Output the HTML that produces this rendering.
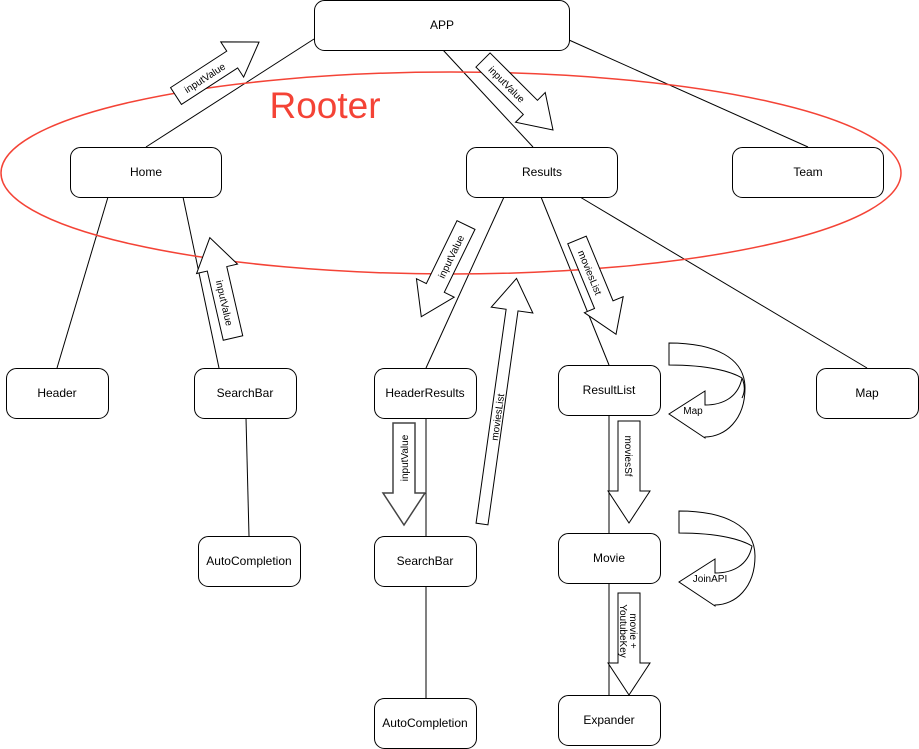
<!DOCTYPE html>
<html><head><meta charset="utf-8"><style>
html,body{margin:0;padding:0;background:#fff;}
svg{display:block;font-family:"Liberation Sans",sans-serif;}
</style></head><body>
<svg width="919" height="749" viewBox="0 0 919 749" xmlns="http://www.w3.org/2000/svg">
<g stroke="#000" stroke-width="1" fill="none">
<line x1="314" y1="39" x2="146" y2="147"/>
<line x1="443" y1="50" x2="533" y2="147"/>
<line x1="569" y1="40" x2="808" y2="147"/>
<line x1="108" y1="197" x2="57" y2="368"/>
<line x1="183" y1="197" x2="219" y2="368"/>
<line x1="246" y1="418" x2="249" y2="536"/>
<line x1="504" y1="197" x2="426" y2="368"/>
<line x1="541" y1="197" x2="609" y2="365"/>
<line x1="580" y1="197" x2="867" y2="368"/>
<line x1="426" y1="418" x2="426" y2="536"/>
<line x1="426" y1="586" x2="426" y2="698"/>
<line x1="609" y1="415" x2="609" y2="533"/>
<line x1="609" y1="583" x2="609" y2="695"/>
</g>
<ellipse cx="451" cy="173" rx="450" ry="101" fill="none" stroke="#f44336" stroke-width="1.5"/>
<text x="325" y="118" font-size="37" fill="#f44336" text-anchor="middle">Rooter</text>
<g fill="#fff" stroke="#000" stroke-width="1" font-size="12" text-anchor="middle">
<rect x="314.5" y="0.5" width="255" height="50" rx="10"/>
<rect x="70.5" y="147.5" width="151" height="50" rx="10"/>
<rect x="466.5" y="147.5" width="151" height="50" rx="10"/>
<rect x="732.5" y="147.5" width="151" height="50" rx="10"/>
<rect x="6.5" y="368.5" width="102" height="50" rx="10"/>
<rect x="194.5" y="368.5" width="102" height="50" rx="10"/>
<rect x="374.5" y="368.5" width="102" height="50" rx="10"/>
<rect x="558.5" y="365.5" width="102" height="50" rx="10"/>
<rect x="816.5" y="368.5" width="102" height="50" rx="10"/>
<rect x="198.5" y="536.5" width="102" height="50" rx="10"/>
<rect x="374.5" y="536.5" width="102" height="50" rx="10"/>
<rect x="558.5" y="533.5" width="102" height="50" rx="10"/>
<rect x="374.5" y="698.5" width="102" height="50" rx="10"/>
<rect x="558.5" y="695.5" width="102" height="50" rx="10"/>
</g>
<g font-size="12" fill="#000" text-anchor="middle">
<text x="442" y="29">APP</text>
<text x="146" y="176">Home</text>
<text x="542" y="176">Results</text>
<text x="808" y="176">Team</text>
<text x="57" y="397">Header</text>
<text x="245" y="397">SearchBar</text>
<text x="425" y="397">HeaderResults</text>
<text x="609" y="394">ResultList</text>
<text x="867" y="397">Map</text>
<text x="249" y="565">AutoCompletion</text>
<text x="425" y="565">SearchBar</text>
<text x="609" y="562">Movie</text>
<text x="425" y="727">AutoCompletion</text>
<text x="609" y="724">Expander</text>
</g>
<!-- block arrows: local coords pointing right -->
<g fill="#fff" stroke="#000" stroke-width="1" font-size="10">
<g transform="translate(176,96) rotate(-33)">
<polygon points="0,-10 67,-10 67,-21 99,0 67,21 67,10 0,10"/>
<text x="34" y="4" fill="#000" stroke="none" text-anchor="middle">inputValue</text></g>
<g transform="translate(483,60) rotate(45)">
<polygon points="0,-10 67,-10 67,-21 99,0 67,21 67,10 0,10"/>
<text x="34" y="4" fill="#000" stroke="none" text-anchor="middle">inputValue</text></g>
<g transform="translate(466,225) rotate(116)">
<polygon points="0,-10 70,-10 70,-21 102,0 70,21 70,10 0,10"/>
<text x="35" y="4" fill="#000" stroke="none" text-anchor="middle" transform="rotate(180 35 0)">inputValue</text></g>
<g transform="translate(233,338) rotate(-103)">
<polygon points="0,-10 71,-10 71,-21 103,0 71,21 71,10 0,10"/>
<text x="36" y="4" fill="#000" stroke="none" text-anchor="middle" transform="rotate(180 36 0)">inputValue</text></g>
<g transform="translate(577,240) rotate(67.5)">
<polygon points="0,-10 70,-10 70,-21 102,0 70,21 70,10 0,10"/>
<text x="35" y="4" fill="#000" stroke="none" text-anchor="middle">moviesList</text></g>
<g transform="translate(482,524) rotate(-82)">
<polygon points="0,-6 216,-6 216,-21 248,0 216,21 216,6 0,6"/>
<text x="108" y="4" fill="#000" stroke="none" text-anchor="middle">moviesList</text></g>
<g transform="translate(404,423) rotate(90)">
<polygon points="0,-11 70,-11 70,-21 102,0 70,21 70,11 0,11" stroke="#444" stroke-width="1.5"/>
<text x="35" y="4" fill="#000" stroke="none" text-anchor="middle" transform="rotate(180 35 0)">inputValue</text></g>
<g transform="translate(629,421) rotate(90)">
<polygon points="0,-11 70,-11 70,-21 102,0 70,21 70,11 0,11"/>
<text x="35" y="4" fill="#000" stroke="none" text-anchor="middle">moviesSf</text></g>
<g transform="translate(629,593) rotate(90)">
<polygon points="0,-11 70,-11 70,-21 102,0 70,21 70,11 0,11"/>
<text x="38" y="-1" fill="#000" stroke="none" text-anchor="middle">movie +</text>
<text x="38" y="9" fill="#000" stroke="none" text-anchor="middle">YoutubeKey</text></g>
</g>
<!-- curved arrows -->
<g fill="#fff" stroke="#000" stroke-width="1" font-size="10">
<path d="M669,343 C715,343 745,358 745,388 C745,420 725,437 705,437 L705,438 L669,414 L705,391 L705,405 C722,405 738,398 742,378 C732,372 710,365 669,365 Z"/>
<path d="M742,378 C745,385 745,392 742,398" fill="none"/>
<text x="693" y="414" fill="#000" stroke="none" text-anchor="middle">Map</text>
<path d="M679,511 C725,511 755,526 755,556 C755,588 735,605 715,605 L715,606 L679,582 L715,559 L715,573 C732,573 748,566 752,546 C742,540 720,533 679,533 Z"/>
<text x="710" y="582" fill="#000" stroke="none" text-anchor="middle">JoinAPI</text>
</g>
</svg>
</body></html>
